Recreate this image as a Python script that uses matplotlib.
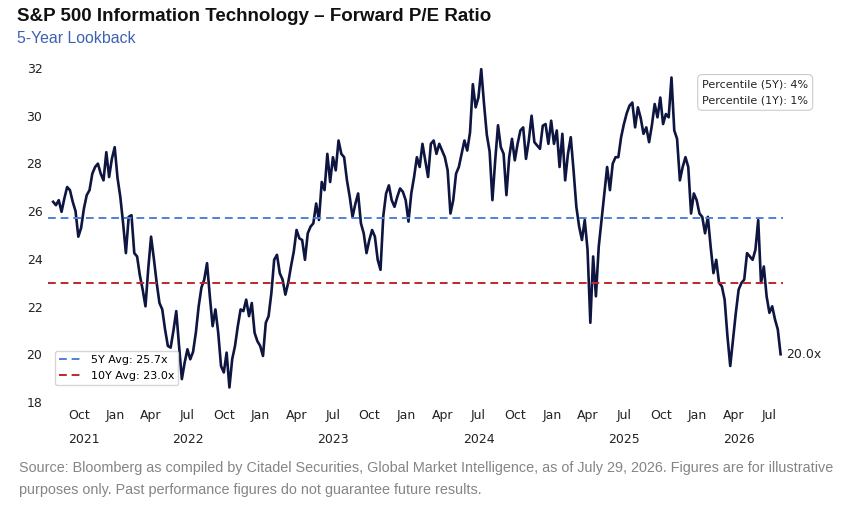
import numpy as np
import pandas as pd
import matplotlib
matplotlib.use("Agg")
import matplotlib.pyplot as plt
import matplotlib.dates as mdates

# weekly forward P/E (Jul 29 2021 -> Jul 29 2026)
pe_values = [
    26.39, 26.25, 26.46, 25.97, 26.53, 27.01, 26.88, 26.39, 26.00, 24.93,
    25.30, 26.11, 26.67, 26.88, 27.57, 27.85, 27.99, 27.57, 27.29, 28.47,
    27.43, 28.20, 28.68, 27.40, 26.60, 25.50, 24.24, 25.76, 25.83, 24.24,
    24.10, 23.30, 22.71, 22.01, 23.60, 24.93, 24.00, 23.00, 22.15, 21.88,
    21.04, 20.35, 20.28, 21.00, 21.81, 20.35, 18.96, 19.65, 20.21, 19.79,
    20.10, 20.90, 22.00, 22.80, 23.13, 23.82, 22.43, 21.18, 21.88, 20.90,
    19.51, 19.24, 20.07, 18.61, 19.80, 20.35, 21.18, 21.88, 21.81, 22.29,
    21.60, 22.15, 20.90, 20.55, 20.35, 19.93, 21.32, 21.60, 22.57, 23.96,
    24.17, 23.40, 23.13, 22.50, 22.99, 23.68, 24.30, 25.21, 24.86, 24.79,
    23.96, 25.07, 25.35, 25.49, 26.32, 25.63, 27.22, 26.88, 28.40, 27.22,
    28.26, 27.71, 28.96, 28.40, 28.26, 27.30, 26.60, 25.76, 26.30, 26.74,
    25.49, 25.07, 24.24, 24.79, 25.21, 24.93, 23.96, 23.54, 25.80, 26.74,
    27.08, 26.46, 26.18, 26.60, 26.95, 26.81, 26.46, 25.56, 26.74, 27.43,
    28.26, 27.85, 28.82, 28.13, 27.43, 28.82, 28.96, 28.40, 28.82, 28.54,
    28.26, 27.71, 25.90, 26.46, 27.57, 27.85, 28.40, 28.96, 28.54, 29.30,
    31.32, 30.35, 30.76, 31.95, 30.50, 29.20, 28.50, 26.46, 28.13, 29.60,
    28.68, 28.40, 26.67, 28.26, 29.03, 28.13, 28.82, 29.38, 29.51, 28.19,
    28.96, 30.00, 28.89, 28.75, 28.61, 29.58, 29.65, 28.82, 29.79, 28.82,
    29.38, 27.85, 29.24, 27.29, 28.40, 29.10, 27.71, 26.18, 25.35, 24.79,
    25.63, 24.38, 21.32, 24.10, 22.43, 24.51, 25.63, 26.74, 27.85, 26.88,
    27.99, 28.26, 28.26, 29.10, 29.65, 30.10, 30.42, 30.55, 29.51, 30.35,
    29.90, 29.24, 29.51, 28.89, 29.60, 30.49, 29.93, 30.76, 29.65, 30.07,
    29.93, 31.60, 29.38, 29.03, 27.29, 27.85, 28.26, 27.85, 25.90, 26.74,
    26.46, 25.90, 25.76, 25.07, 25.76, 24.51, 23.40, 23.96, 22.99, 22.85,
    22.29, 20.76, 19.51, 20.62, 21.74, 22.71, 22.99, 23.13, 24.24, 24.10,
    23.96, 24.38, 25.63, 22.99, 23.68, 22.43, 21.74, 22.01, 21.46, 21.04,
    20.00,
]
dates = pd.date_range("2021-07-29", "2026-07-29", periods=len(pe_values))

avg_5y = 25.7
avg_10y = 23.0
pct_5y = 4
pct_1y = 1
year_labels = ["2021", "2022", "2023", "2024", "2025", "2026"]

line_col = "#0d1540"
blue = "#4f80dd"
red = "#c0272d"

fig = plt.figure(figsize=(8.52, 5.11), dpi=100)
ax = fig.add_axes([0.0563, 0.2086, 0.8627, 0.6724])

ax.plot(dates, pe_values, color=line_col, lw=1.9, solid_joinstyle="round")
ax.axhline(avg_5y, color=blue, ls=(0, (4, 2.5)), lw=1.4, label=f"5Y Avg: {avg_5y:.1f}x")
ax.axhline(avg_10y, color=red, ls=(0, (4, 2.5)), lw=1.4, label=f"10Y Avg: {avg_10y:.1f}x")

ax.set_xlim(dates[0] - pd.Timedelta(days=13), dates[-1] + pd.Timedelta(days=6))
ax.set_ylim(17.9, 32.3)
ax.set_yticks([18, 20, 22, 24, 26, 28, 30, 32])

ax.xaxis.set_major_locator(mdates.MonthLocator(bymonth=[1, 4, 7, 10]))
ax.xaxis.set_major_formatter(mdates.DateFormatter("%b"))
ax.tick_params(axis="both", length=0, labelsize=9, colors="#222222")
ax.tick_params(axis="x", pad=3)
ax.tick_params(axis="y", pad=4)
for s in ax.spines.values():
    s.set_visible(False)

# year labels centred under the visible part of each year
for yl in year_labels:
    y0 = max(pd.Timestamp(f"{yl}-01-01"), dates[0])
    y1 = min(pd.Timestamp(f"{yl}-12-31"), dates[-1])
    mid = y0 + (y1 - y0) / 2
    ax.text(mid, -0.101, yl, transform=ax.get_xaxis_transform(),
            ha="center", va="center", fontsize=9, color="#222222")

leg = ax.legend(loc="lower left", bbox_to_anchor=(0.0095, 0.056), borderaxespad=0,
                fontsize=8, frameon=True, fancybox=True, handlelength=2.0)
leg.get_frame().set_edgecolor("#cccccc")

ax.annotate(f"{pe_values[-1]:.1f}x", xy=(dates[-1], pe_values[-1]), xytext=(4, 0),
            textcoords="offset points", ha="left", va="center", fontsize=9, color="#222222")

ax.text(0.890, 0.947, f"Percentile (5Y): {pct_5y}%\nPercentile (1Y): {pct_1y}%",
        transform=ax.transAxes, ha="left", va="top", fontsize=8, color="#222222",
        linespacing=1.85,
        bbox=dict(boxstyle="round,pad=0.4", fc="white", ec="#cccccc", lw=0.8))

fig.text(0.020, 0.967, "S&P 500 Information Technology \u2013 Forward P/E Ratio",
         fontsize=13.5, fontweight="bold", family="Liberation Sans", va="center", color="#111111")
fig.text(0.020, 0.924, "5-Year Lookback", fontsize=11.4, family="Liberation Sans",
         va="center", color="#3d62b3")

fig.text(0.022, 0.084, "Source: Bloomberg as compiled by Citadel Securities, Global Market Intelligence, "
         "as of July 29, 2026. Figures are for illustrative", fontsize=10.4,
         family="Liberation Sans", va="center", color="#858585")
fig.text(0.022, 0.041, "purposes only. Past performance figures do not guarantee future results.",
         fontsize=10.4, family="Liberation Sans", va="center", color="#858585")

fig.savefig("out.png", dpi=100)
